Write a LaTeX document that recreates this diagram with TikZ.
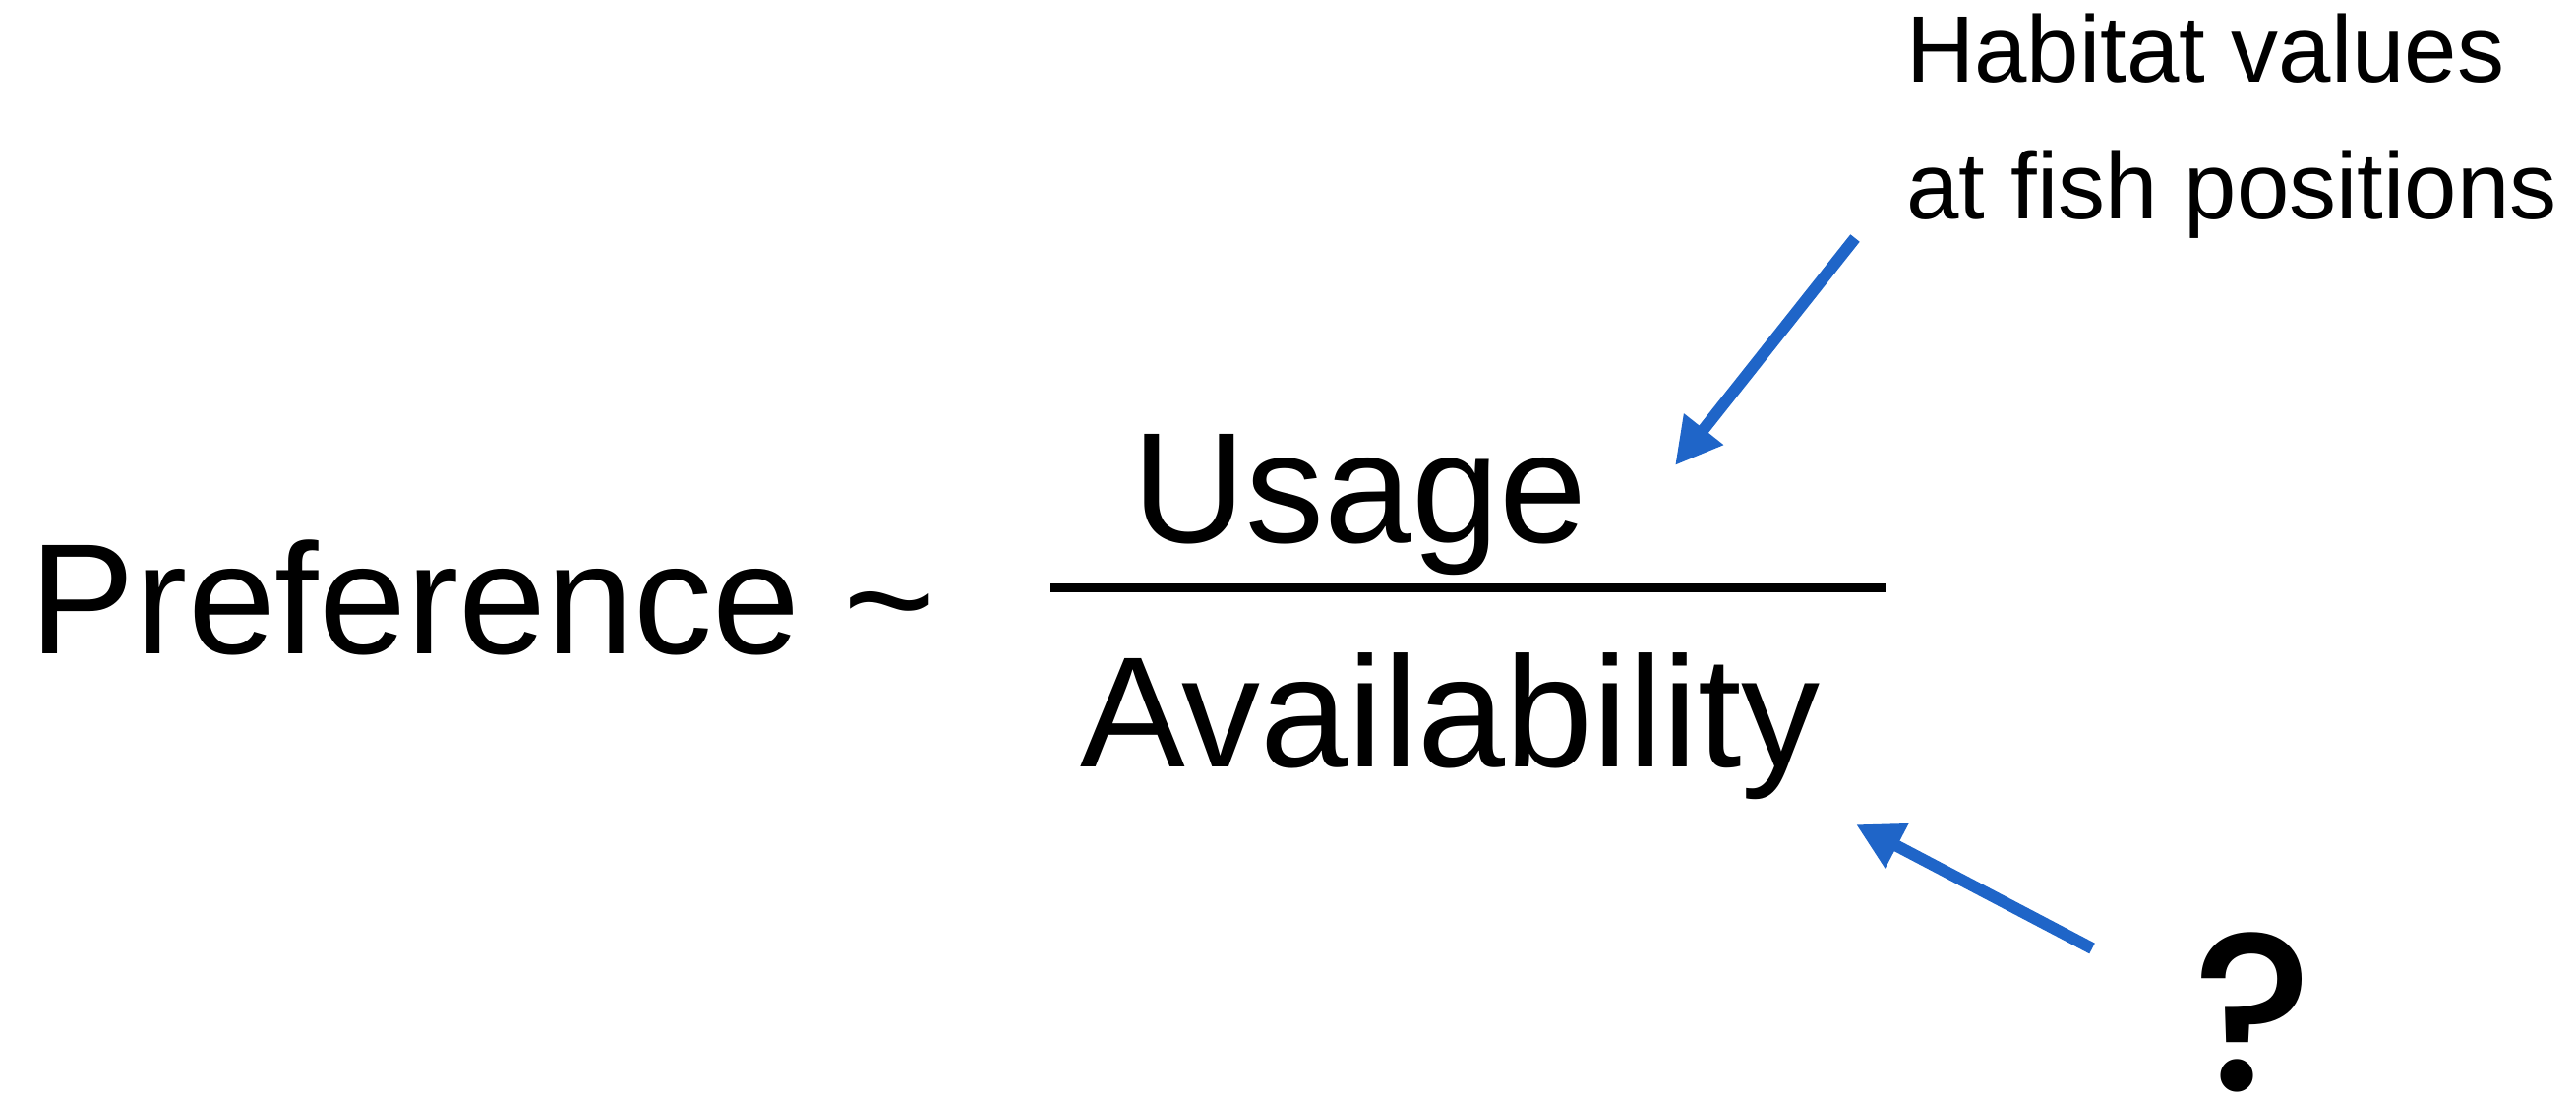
\documentclass[tikz,border=0pt]{standalone}
\usepackage{fontspec}
\setmainfont{Liberation Sans}
\newfontfamily\qfont{Poppins Medium}
\usetikzlibrary{arrows.meta}
\definecolor{arrowblue}{RGB}{31,101,200}

\begin{document}
\begin{tikzpicture}[x=0.25pt, y=-0.25pt,
  lbl/.style={inner sep=0pt, outer sep=0pt, anchor=base west,
    font=\fontsize{40pt}{48pt}\selectfont},
  note/.style={inner sep=0pt, outer sep=0pt, anchor=base west,
    font=\fontsize{24pt}{30pt}\selectfont},
  qmark/.style={inner sep=0pt, outer sep=0pt, anchor=base,
    font=\qfont\fontsize{57pt}{60pt}\selectfont},
  pointer/.style={draw=arrowblue, line width=3pt,
    -{Triangle[length=11.75pt, width=12pt]}},
  fracbar/.style={draw=black, line width=2.25pt}]
\useasboundingbox (0,0) rectangle (2619,1115);

% left-hand side of the relation
\node[lbl] (pref) at (31,664) {Preference \textasciitilde};

% the ratio
\node[lbl] (usage) at (1151,551) {Usage};
\node[lbl] (avail) at (1098,779) {Availability};
\coordinate (barL) at (1068,597);
\coordinate (barR) at (1917,597);
\draw[fracbar] (barL) -- (barR);

% annotations
\node[note] (hab1) at (1938,83) {Habitat values};
\node[note] (hab2) at (1938,222) {at fish positions};
\node[qmark] (q) at (2291,1108) {?};

% pointers to numerator and denominator
\coordinate (habTail) at (1886,242);
\coordinate (usageTip) at (1703,473);
\coordinate (qTail) at (2127,964);
\coordinate (availTip) at (1887,838);
\draw[pointer] (habTail) -- (usageTip);
\draw[pointer] (qTail) -- (availTip);
\end{tikzpicture}
\end{document}
